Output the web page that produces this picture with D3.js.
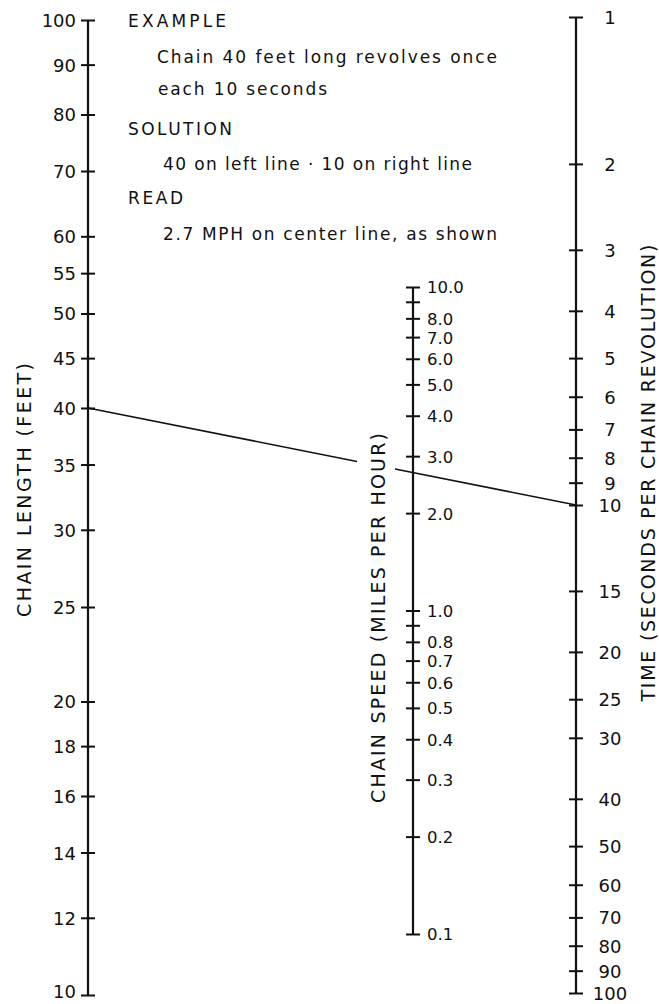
<!DOCTYPE html>
<html>
<head>
<meta charset="utf-8">
<script src="https://cdn.jsdelivr.net/npm/d3@7"></script>
<style>
  html, body { margin: 0; padding: 0; background: #fff; }
  svg { display: block; font-family: "DejaVu Sans", sans-serif; }
  .tick line { stroke: #111; stroke-width: 2; }
  .tick text { fill: #111; }
</style>
</head>
<body>
<svg id="chart" width="659" height="1004"></svg>
<script>
// Tick values for each of the three scales
const lengthTicks = [10, 12, 14, 16, 18, 20, 25, 30, 35, 40, 45, 50, 55, 60, 70, 80, 90, 100];
const speedTicks = [0.1, 0.2, 0.3, 0.4, 0.5, 0.6, 0.7, 0.8, 0.9, 1, 2, 3, 4, 5, 6, 7, 8, 9, 10];
const speedUnlabeled = [0.9, 9];
const timeTicks = [1, 2, 3, 4, 5, 6, 7, 8, 9, 10, 15, 20, 25, 30, 40, 50, 60, 70, 80, 90, 100];

// Axis titles
const lengthTitle = "CHAIN  LENGTH  (FEET)";
const speedTitle = "CHAIN  SPEED  (MILES PER HOUR)";
const timeTitle = "TIME  (SECONDS  PER  CHAIN  REVOLUTION)";

// The worked example
const exampleLength = 40;
const exampleTime = 10;
const notes = [
  "EXAMPLE",
  "Chain  40  feet  long  revolves  once",
  "each  10  seconds",
  "SOLUTION",
  "40  on  left  line \u00b7 10  on  right  line",
  "READ",
  "2.7  MPH  on  center  line,  as  shown"
];
// where each note line goes: x, baseline, width
const noteLayout = [
  [128, 27, 98], [157, 63, 340], [158, 95, 169], [128, 135, 104],
  [163, 170, 309], [128, 204, 55], [163, 240, 334]
];

const svg = d3.select("#chart");

// x position of each vertical line
const xLen = 88, xSpd = 413, xTim = 576;

const yLen = d3.scaleLog().domain([10, 100]).range([995, 20]);
const ySpd = d3.scaleLog().domain([0.1, 10]).range([934, 287]);
const yTim = d3.scaleLog().domain([1, 100]).range([17, 993]);

function drawScale(x, scale, ticks, side, fmt, labelX, anchor, size) {
  const axis = (side === "left" ? d3.axisLeft(scale) : d3.axisRight(scale))
    .tickValues(ticks)
    .tickSizeOuter(0)
    .tickFormat(fmt);
  const g = svg.append("g").attr("transform", `translate(${x},0)`).call(axis);
  // d3 puts its own small font on the group, drop it
  g.attr("font-family", null).attr("font-size", size);
  g.select(".domain").remove();
  // ticks cross the line on both sides
  g.selectAll(".tick line").attr("x1", -7).attr("x2", 7);
  // keep the lowest left label inside the page
  g.selectAll(".tick text")
    .attr("x", labelX)
    .attr("dy", d => scale(d) > 994 ? "0.15em" : "0.36em")
    .attr("text-anchor", anchor);
  // the main line
  const [y0, y1] = d3.extent(scale.range());
  svg.append("line")
    .attr("x1", x).attr("x2", x)
    .attr("y1", y0).attr("y2", y1)
    .attr("stroke", "#111")
    .attr("stroke-width", 2.2);
  return g;
}

drawScale(xLen, yLen, lengthTicks, "left", d => d, -12, "end", 18);
drawScale(xSpd, ySpd, speedTicks, "right",
  d => speedUnlabeled.includes(d) ? "" : d.toFixed(1), 14, "start", 16.5);
drawScale(xTim, yTim, timeTicks, "right", d => d, 34, "middle", 18);

// rotated titles
function drawTitle(text, x, y, len) {
  svg.append("text")
    .attr("transform", `translate(${x},${y}) rotate(-90)`)
    .attr("text-anchor", "middle")
    .attr("dy", "0.36em")
    .attr("font-size", 19)
    .attr("fill", "#111")
    .attr("textLength", len)
    .attr("lengthAdjust", "spacing")
    .text(text);
}
drawTitle(lengthTitle, 24, 490, 254);
drawTitle(speedTitle, 378, 618, 370);
drawTitle(timeTitle, 648, 473, 457);

// example notes at the top
notes.forEach((t, i) => {
  const [x, y, w] = noteLayout[i];
  svg.append("text")
    .attr("x", x).attr("y", y)
    .attr("font-size", 17)
    .attr("fill", "#111")
    .attr("textLength", w)
    .attr("lengthAdjust", "spacing")
    .text(t);
});

// example line from 40 on the left to 10 on the right, broken where it
// crosses the centre title
const p0 = [xLen, yLen(exampleLength)];
const p1 = [xTim, yTim(exampleTime)];
const yAt = x => p0[1] + (x - p0[0]) / (p1[0] - p0[0]) * (p1[1] - p0[1]);
const gapL = 357, gapR = 395;
[[p0[0], gapL], [gapR, p1[0]]].forEach(([a, b]) => {
  svg.append("line")
    .attr("x1", a).attr("y1", yAt(a))
    .attr("x2", b).attr("y2", yAt(b))
    .attr("stroke", "#111")
    .attr("stroke-width", 1.6);
});
</script>
</body>
</html>
